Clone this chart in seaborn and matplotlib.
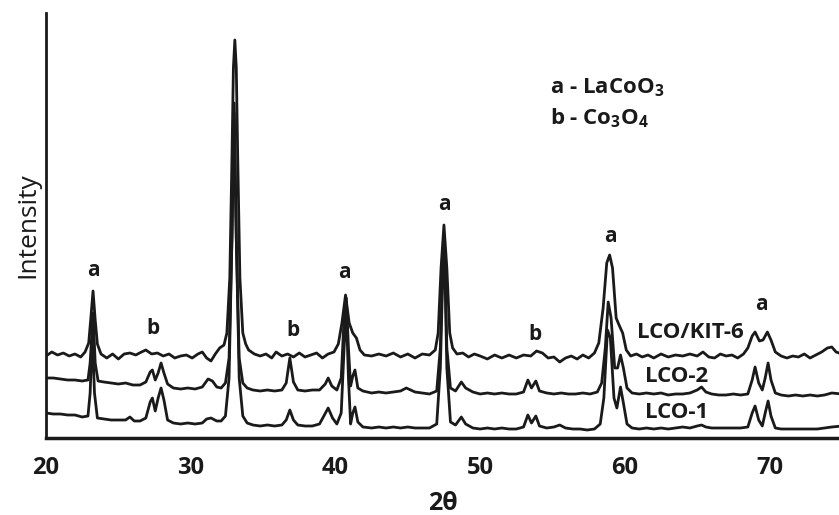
import matplotlib
matplotlib.use("Agg")
import matplotlib.pyplot as plt
import seaborn as sns
import pandas as pd

# XRD traces (2-theta in degrees, intensity in arbitrary units)
kit6_x = [20.0, 20.4, 20.8, 21.2, 21.6, 22.0, 22.4, 22.7, 22.95, 23.1, 23.25, 23.4, 23.55, 23.8,
          24.2, 24.6, 25.0, 25.4, 25.8, 26.2, 26.6, 26.9, 27.3, 27.7, 28.1, 28.5, 28.9, 29.3,
          29.7, 30.1, 30.5, 30.8, 31.1, 31.4, 31.7, 32.0, 32.3, 32.5, 32.7, 32.85, 32.95, 33.05,
          33.15, 33.25, 33.4, 33.6, 33.8, 34.0, 34.4, 34.8, 35.2, 35.6, 35.9, 36.3, 36.7, 37.1,
          37.5, 37.9, 38.3, 38.7, 39.1, 39.5, 39.9, 40.2, 40.45, 40.7, 40.95, 41.2, 41.45, 41.7,
          42.0, 42.5, 43.0, 43.5, 44.0, 44.5, 45.0, 45.5, 46.0, 46.5, 46.9, 47.1, 47.3, 47.5,
          47.7, 47.9, 48.1, 48.4, 48.8, 49.2, 49.6, 50.0, 50.5, 51.0, 51.5, 52.0, 52.5, 53.0,
          53.5, 53.9, 54.3, 54.7, 55.1, 55.5, 55.9, 56.3, 56.7, 57.1, 57.5, 57.9, 58.2, 58.5,
          58.75, 58.95, 59.15, 59.4, 59.6, 59.85, 60.1, 60.4, 60.8, 61.2, 61.6, 62.0, 62.5, 63.0,
          63.5, 64.0, 64.5, 65.0, 65.4, 65.8, 66.2, 66.6, 67.0, 67.4, 67.8, 68.2, 68.5, 68.8,
          69.0, 69.3, 69.55, 69.85, 70.1, 70.4, 70.8, 71.2, 71.6, 72.0, 72.4, 72.8, 73.2, 73.6,
          74.0, 74.3, 74.6, 75.0]
kit6_y = [82, 86, 83, 85, 82, 84, 81, 86, 95, 120, 147, 118, 94, 84,
          80, 84, 79, 84, 85, 83, 86, 88, 84, 85, 82, 84, 80, 82,
          83, 80, 84, 86, 80, 77, 84, 90, 93, 105, 160, 280, 370, 398,
          370, 280, 160, 105, 94, 88, 84, 82, 84, 80, 86, 82, 84, 81,
          85, 81, 83, 85, 80, 84, 86, 94, 115, 143, 115, 105, 100, 88,
          83, 82, 84, 82, 85, 81, 84, 80, 84, 83, 88, 105, 170, 213,
          170, 105, 90, 84, 85, 81, 84, 82, 79, 83, 80, 83, 80, 83,
          82, 87, 85, 80, 81, 76, 80, 82, 79, 83, 80, 85, 95, 130,
          175, 183, 170, 120, 113, 105, 88, 82, 84, 81, 83, 80, 84, 81,
          83, 82, 84, 82, 86, 81, 80, 84, 82, 83, 80, 84, 90, 102,
          106, 97, 98, 106, 98, 86, 82, 80, 82, 81, 84, 80, 83, 86,
          90, 91, 86, 84]

lco2_x = [20.0, 20.5, 21.0, 21.5, 22.0, 22.5, 22.9, 23.05, 23.25, 23.4, 23.6, 24.0, 24.5, 25.0,
          25.5, 26.0, 26.5, 26.9, 27.2, 27.35, 27.55, 27.75, 27.95, 28.15, 28.4, 28.8, 29.3, 29.8,
          30.3, 30.8, 31.2, 31.5, 31.8, 32.1, 32.4, 32.65, 32.85, 33.0, 33.15, 33.35, 33.6, 33.9,
          34.3, 34.8, 35.3, 35.8, 36.3, 36.6, 36.85, 37.1, 37.4, 37.9, 38.4, 38.9, 39.3, 39.5,
          39.75, 40.1, 40.4, 40.6, 40.75, 40.9, 41.05, 41.2, 41.35, 41.55, 41.9, 42.5, 43.0, 43.5,
          44.0, 44.5, 44.9, 45.5, 46.0, 46.5, 47.0, 47.25, 47.45, 47.55, 47.7, 47.95, 48.3, 48.7,
          49.0, 49.5, 50.0, 50.5, 51.0, 51.5, 52.0, 52.5, 53.0, 53.3, 53.55, 53.85, 54.1, 54.6,
          55.1, 55.6, 56.1, 56.6, 57.1, 57.6, 58.1, 58.4, 58.65, 58.85, 59.05, 59.3, 59.5, 59.7,
          59.9, 60.15, 60.5, 61.0, 61.5, 62.0, 62.5, 63.0, 63.5, 64.0, 64.5, 65.0, 65.3, 65.6,
          66.0, 66.5, 67.0, 67.5, 68.0, 68.5, 68.8, 69.0, 69.25, 69.5, 69.7, 69.9, 70.1, 70.4,
          70.8, 71.3, 71.8, 72.3, 72.8, 73.3, 73.8, 74.3, 75.0]
lco2_y = [60, 60, 59, 58, 58, 57, 58, 75, 125, 75, 57, 56, 55, 54,
          55, 53, 53, 56, 66, 68, 58, 65, 75, 65, 54, 50, 49, 50,
          49, 51, 59, 57, 51, 50, 55, 80, 200, 335, 200, 80, 55, 50,
          48, 47, 48, 47, 48, 55, 80, 56, 48, 47, 48, 48, 54, 60,
          52, 48, 60, 120, 140, 90, 52, 62, 68, 50, 47, 45, 46, 45,
          46, 47, 50, 46, 45, 44, 47, 90, 190, 190, 90, 50, 47, 56,
          50, 46, 44, 45, 44, 45, 44, 44, 46, 58, 50, 57, 47, 45,
          44, 45, 44, 44, 45, 44, 46, 55, 90, 136, 120, 70, 70, 83,
          70, 50, 45, 44, 45, 44, 45, 43, 44, 44, 45, 48, 51, 46,
          44, 43, 43, 44, 43, 44, 58, 71, 55, 48, 60, 75, 58, 45,
          43, 42, 43, 42, 43, 42, 43, 45, 44]

lco1_x = [20.0, 20.5, 21.0, 21.5, 22.0, 22.5, 22.9, 23.05, 23.2, 23.35, 23.55, 24.0, 24.5, 25.0,
          25.5, 25.8, 26.1, 26.5, 26.9, 27.2, 27.35, 27.55, 27.75, 27.95, 28.15, 28.4, 28.8, 29.3,
          29.8, 30.3, 30.8, 31.1, 31.4, 31.8, 32.1, 32.4, 32.65, 32.85, 33.0, 33.15, 33.35, 33.6,
          33.9, 34.3, 34.8, 35.3, 35.8, 36.3, 36.6, 36.85, 37.1, 37.4, 37.9, 38.4, 38.9, 39.2,
          39.5, 39.8, 40.1, 40.4, 40.6, 40.75, 40.9, 41.05, 41.2, 41.35, 41.55, 41.9, 42.5, 43.0,
          43.5, 44.0, 44.5, 45.0, 45.5, 46.0, 46.5, 47.0, 47.25, 47.45, 47.55, 47.7, 47.95, 48.3,
          48.7, 49.0, 49.5, 50.0, 50.5, 51.0, 51.5, 52.0, 52.5, 53.0, 53.3, 53.55, 53.85, 54.1,
          54.6, 55.1, 55.5, 55.9, 56.4, 56.9, 57.4, 57.9, 58.3, 58.55, 58.8, 59.0, 59.25, 59.45,
          59.7, 59.9, 60.15, 60.5, 61.0, 61.5, 62.0, 62.5, 63.0, 63.5, 64.0, 64.5, 65.0, 65.3,
          65.6, 66.0, 66.5, 67.0, 67.5, 68.0, 68.5, 68.8, 69.0, 69.25, 69.5, 69.7, 69.9, 70.1,
          70.4, 70.8, 71.3, 71.8, 72.3, 72.8, 73.3, 73.8, 74.3, 75.0]
lco1_y = [25, 24, 24, 23, 23, 21, 22, 45, 105, 45, 20, 19, 18, 18,
          18, 21, 17, 17, 20, 36, 40, 27, 40, 50, 38, 18, 15, 14,
          15, 14, 15, 19, 20, 17, 17, 22, 60, 200, 325, 200, 60, 22,
          15, 13, 12, 13, 12, 13, 18, 28, 18, 13, 12, 12, 14, 22,
          30, 20, 14, 25, 90, 130, 60, 14, 25, 31, 16, 11, 10, 11,
          10, 11, 10, 11, 10, 10, 10, 14, 70, 180, 180, 70, 16, 13,
          21, 14, 10, 9, 10, 9, 10, 9, 9, 11, 23, 15, 22, 12,
          10, 11, 13, 10, 9, 9, 8, 9, 14, 40, 108, 100, 40, 30,
          51, 35, 14, 10, 9, 10, 9, 10, 9, 10, 11, 10, 12, 13,
          11, 10, 10, 10, 10, 10, 11, 25, 32, 18, 12, 25, 37, 22,
          10, 9, 9, 9, 9, 9, 9, 10, 11, 12]

# phase markers above the peaks
mark_text = ["a", "b", "b", "a", "a", "b", "a", "a"]
mark_x = [23.25, 27.4, 37.06, 40.65, 47.5, 53.8, 59.0, 69.45]
mark_y = [168, 110, 108, 166, 234, 103, 201, 133]

sample_names = ["LCO/KIT-6", "LCO-2", "LCO-1"]
sample_label_x = [64.5, 63.6, 63.6]
sample_label_y = [106, 62, 25]

sns.set_style("white")
plt.rcParams['font.family'] = ['Open Sans', 'DejaVu Sans']
plt.rcParams['mathtext.fontset'] = 'custom'
plt.rcParams['mathtext.rm'] = 'Open Sans:bold'
plt.rcParams['mathtext.bf'] = 'Open Sans:bold'
plt.rcParams['mathtext.it'] = 'Open Sans:bold'

ink = '#1a1a1a'

fig = plt.figure(figsize=(8.39, 5.15), dpi=100)
ax = fig.add_axes([46 / 839, 77 / 515, 793 / 839, 425 / 515])

for xs, ys in [(kit6_x, kit6_y), (lco2_x, lco2_y), (lco1_x, lco1_y)]:
    df = pd.DataFrame({'two_theta': xs, 'intensity': ys})
    sns.lineplot(data=df, x='two_theta', y='intensity', color=ink,
                 linewidth=2.0, estimator=None, ax=ax)

for t, x, y in zip(mark_text, mark_x, mark_y):
    ax.text(x, y, t, ha='center', va='center', fontsize=15, fontweight='bold', color=ink)

for t, x, y in zip(sample_names, sample_label_x, sample_label_y):
    ax.text(x, y, t, ha='center', va='center', fontsize=16, fontweight='bold', color=ink)

ax.text(0.636, 0.824, "a - LaCoO$_3$", transform=ax.transAxes, fontsize=16,
        fontweight='bold', color=ink, va='center')
ax.text(0.636, 0.753, "b - Co$_3$O$_4$", transform=ax.transAxes, fontsize=16,
        fontweight='bold', color=ink, va='center')

ax.set_xlim(20, 74.8)
ax.set_ylim(0, 425)
ax.set_xticks([20, 30, 40, 50, 60, 70])
ax.set_yticks([])
ax.set_xlabel('2θ', fontsize=18, fontweight='bold', color=ink, labelpad=8)
ax.set_ylabel('Intensity', fontsize=19, color=ink, labelpad=4)
ax.tick_params(axis='x', direction='out', length=5, width=1.5, labelsize=17, colors=ink, pad=8)
for lab in ax.get_xticklabels():
    lab.set_fontweight('bold')

sns.despine(ax=ax, top=True, right=True)
ax.spines['left'].set_linewidth(2.0)
ax.spines['bottom'].set_linewidth(2.5)
ax.spines['left'].set_color(ink)
ax.spines['bottom'].set_color(ink)

fig.savefig('out.png', dpi=100)
